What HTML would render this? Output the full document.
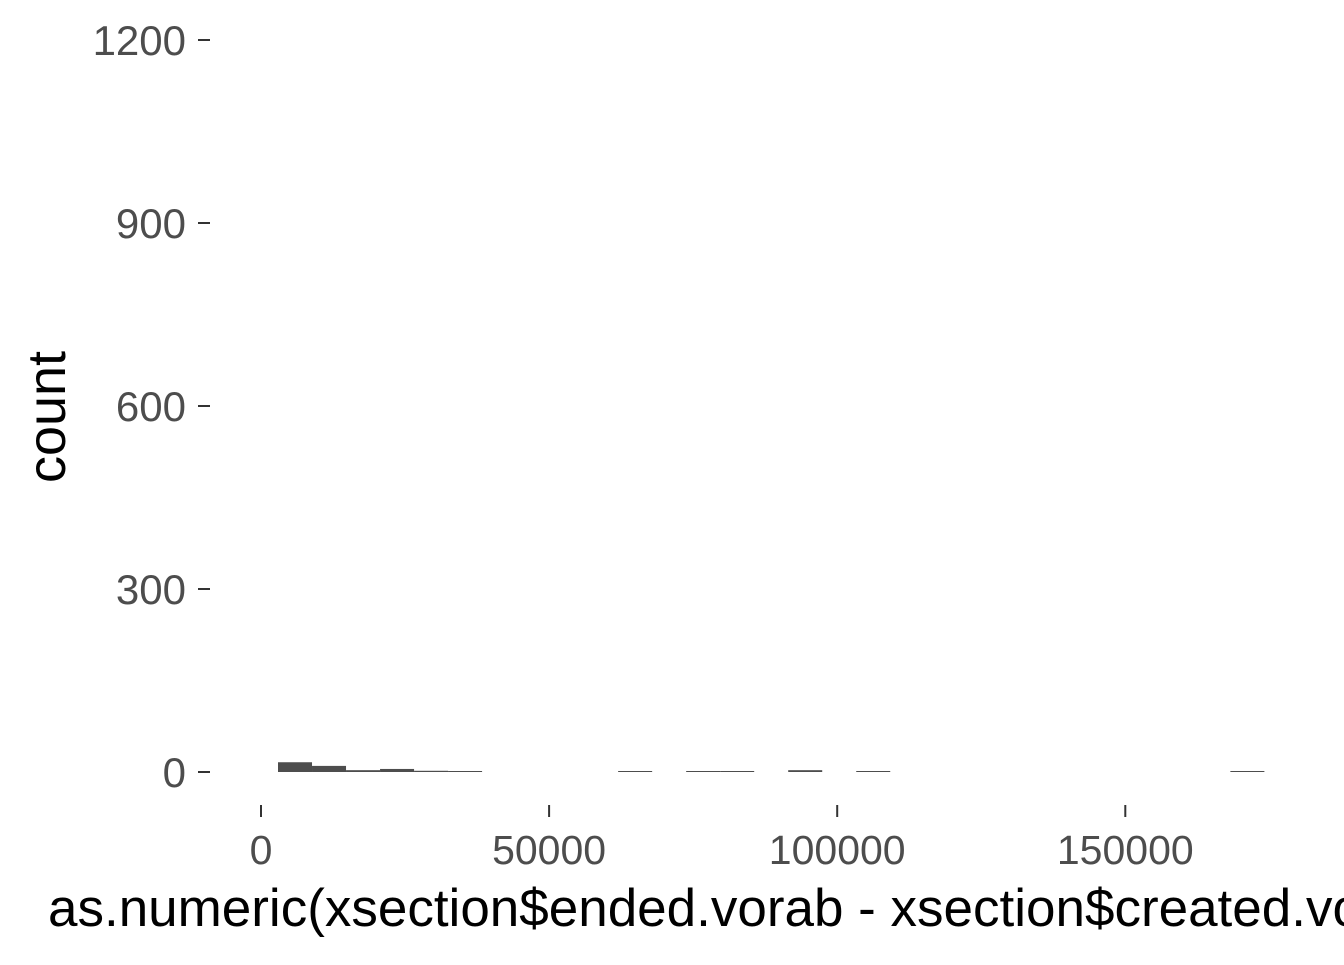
<!DOCTYPE html>
<html><head><meta charset="utf-8"><style>
body{margin:0;background:#fff;overflow:hidden}
text{font-family:"Liberation Sans",Arial,sans-serif}
</style></head><body>
<svg width="1344" height="960">
<g id="bars"></g><g id="axes"></g>
<text x="48" y="926" font-size="53" fill="#000">as.numeric(xsection$ended.vorab - xsection$created.vorab)</text>
<text transform="translate(65,417) rotate(-90)" text-anchor="middle" font-size="54" fill="#000">count</text>
</svg>
<script>
const binStart = 2951;
const binWidth = 5903;
const binIndex = [0,1,2,3,4,5,10,12,13,15,17,28];
const binCounts = [16,10,3,5,2,1,1,1,1,3,1,1];
const yTicks = [0,300,600,900,1200];
const xTicks = [0,50000,100000,150000];
const NS="http://www.w3.org/2000/svg";
const xs=v=>261+v*0.005762;
const ys=v=>772-v*0.61;
const bars=document.getElementById('bars'),axes=document.getElementById('axes');
function mk(tag,a,p){const e=document.createElementNS(NS,tag);for(const k in a)e.setAttribute(k,a[k]);p.appendChild(e);return e;}
binIndex.forEach((b,i)=>{
  const x0=xs(binStart+b*binWidth),x1=xs(binStart+(b+1)*binWidth);
  const h=Math.max(ys(0)-ys(binCounts[i]),1);
  const r=mk('rect',{x:x0,y:ys(0)-h,width:x1-x0,height:h,fill:'#4d4d4d'},bars);
  
  
});
yTicks.forEach(t=>{
  const l=mk('line',{x1:198,x2:210,y1:ys(t),y2:ys(t),stroke:'#333','stroke-width':2},axes);
  
  
  const tx=mk('text',{x:186,y:ys(t)+15,'text-anchor':'end','font-size':42,fill:'#4d4d4d'},axes);
  tx.textContent=t;
  
  
});
xTicks.forEach(t=>{
  const l=mk('line',{x1:xs(t),x2:xs(t),y1:805,y2:817,stroke:'#333','stroke-width':2},axes);
  
  
  const tx=mk('text',{x:xs(t),y:864,'text-anchor':'middle','font-size':41,fill:'#4d4d4d'},axes);
  tx.textContent=t;
  
  
});
</script>
</body></html>
